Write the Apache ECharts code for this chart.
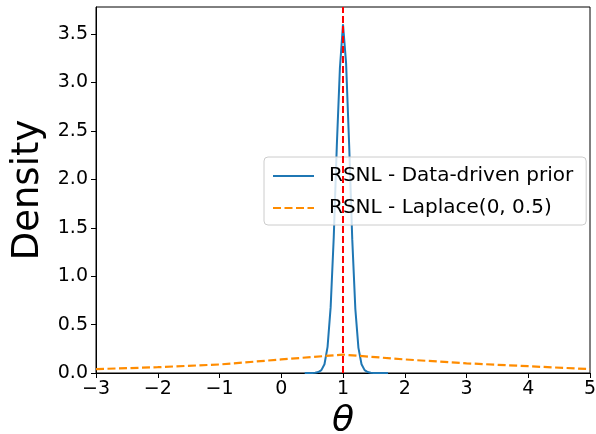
<!DOCTYPE html>
<html>
<head>
<meta charset="utf-8">
<script src="https://cdn.jsdelivr.net/npm/echarts@6/dist/echarts.min.js"></script>
<style>html,body{margin:0;padding:0;background:#fff;}#c{width:596px;height:434px;}</style>
</head>
<body>
<div id="c"></div>
<script>
// Data
const blueX = [0.38,0.45,0.5,0.55,0.6,0.65,0.7,0.75,0.8,0.85,0.9,0.95,1.0,1.05,1.1,1.15,1.2,1.25,1.3,1.35,1.4,1.45,1.5,1.6,1.73];
const blueY = [0,0,0.001,0.003,0.01,0.03,0.09,0.27,0.68,1.40,2.35,3.15,3.60,3.20,2.35,1.38,0.66,0.26,0.09,0.03,0.01,0.003,0.001,0,0];
const orangeX = [-3,-2,-1,0,1,2,3,4,5];
const orangeY = [0.04,0.06,0.088,0.14,0.19,0.14,0.10,0.07,0.04];
const trueValue = 1;
const xTicks = [-3,-2,-1,0,1,2,3,4,5];
const yTicks = [0,0.5,1.0,1.5,2.0,2.5,3.0,3.5];
const seriesNames = ['RSNL - Data-driven prior','RSNL - Laplace(0, 0.5)'];

const font = 'DejaVu Sans';
const chart = echarts.init(document.getElementById('c'), null, {renderer:'canvas'});
chart.setOption({
  animation:false,
  textStyle:{fontFamily:font},
  grid:{left:96,right:6,top:7,bottom:61,show:true,borderColor:'#000',borderWidth:1,backgroundColor:'transparent',
        containLabel:false,outerBoundsMode:'none'},
  legend:{
    orient:'vertical',left:264,top:157,
    data:seriesNames,
    itemWidth:41,itemHeight:14,itemGap:12,
    padding:[9,13,7,8],
    backgroundColor:'rgba(255,255,255,0.8)',
    borderColor:'#cccccc',borderWidth:1,borderRadius:4,
    itemStyle:{color:'transparent',borderWidth:0,opacity:0},
    textStyle:{fontFamily:font,fontSize:20,color:'#000',padding:[0,0,0,10]}
  },
  xAxis:{
    type:'value',min:-3,max:5,interval:1,
    name:'θ',nameLocation:'middle',nameGap:22,
    nameTextStyle:{fontFamily:font,fontSize:36,fontStyle:'italic',color:'#000'},
    axisLine:{show:true,onZero:false,lineStyle:{color:'#000',width:1}},
    axisTick:{show:true,inside:false,length:5,lineStyle:{color:'#000'},customValues:xTicks},
    axisLabel:{fontFamily:font,fontSize:19,color:'#000',margin:7,customValues:xTicks,
      formatter:v=>v<0?'\u2212'+Math.abs(v):String(v)},
    splitLine:{show:false}
  },
  yAxis:{
    type:'value',min:0,max:3.78,interval:0.5,
    name:'Density',nameLocation:'middle',nameGap:46,
    nameTextStyle:{fontFamily:font,fontSize:37,color:'#000'},
    axisLine:{show:true,onZero:false,lineStyle:{color:'#000',width:1}},
    axisTick:{show:true,inside:false,length:5,lineStyle:{color:'#000'},customValues:yTicks},
    axisLabel:{fontFamily:font,fontSize:19,color:'#000',margin:8,customValues:yTicks,
      formatter:v=>v.toFixed(1)},
    splitLine:{show:false}
  },
  series:[
    {
      name:seriesNames[0],type:'line',showSymbol:false,symbol:'none',symbolSize:0,
      data:blueX.map((x,i)=>[x,blueY[i]]),
      lineStyle:{color:'#1f77b4',width:2},itemStyle:{color:'#1f77b4'},
      z:2,
      markLine:{
        silent:true,symbol:['none','none'],label:{show:false},
        lineStyle:{color:'#ff0000',type:[7,3],width:2},
        data:[{xAxis:trueValue}]
      }
    },
    {
      name:seriesNames[1],type:'line',showSymbol:false,symbol:'none',symbolSize:0,
      data:orangeX.map((x,i)=>[x,orangeY[i]]),
      lineStyle:{color:'#ff8c00',width:2.2,type:[8,3.5]},itemStyle:{color:'#ff8c00'},
      z:2
    }
  ]
});
</script>
</body>
</html>
